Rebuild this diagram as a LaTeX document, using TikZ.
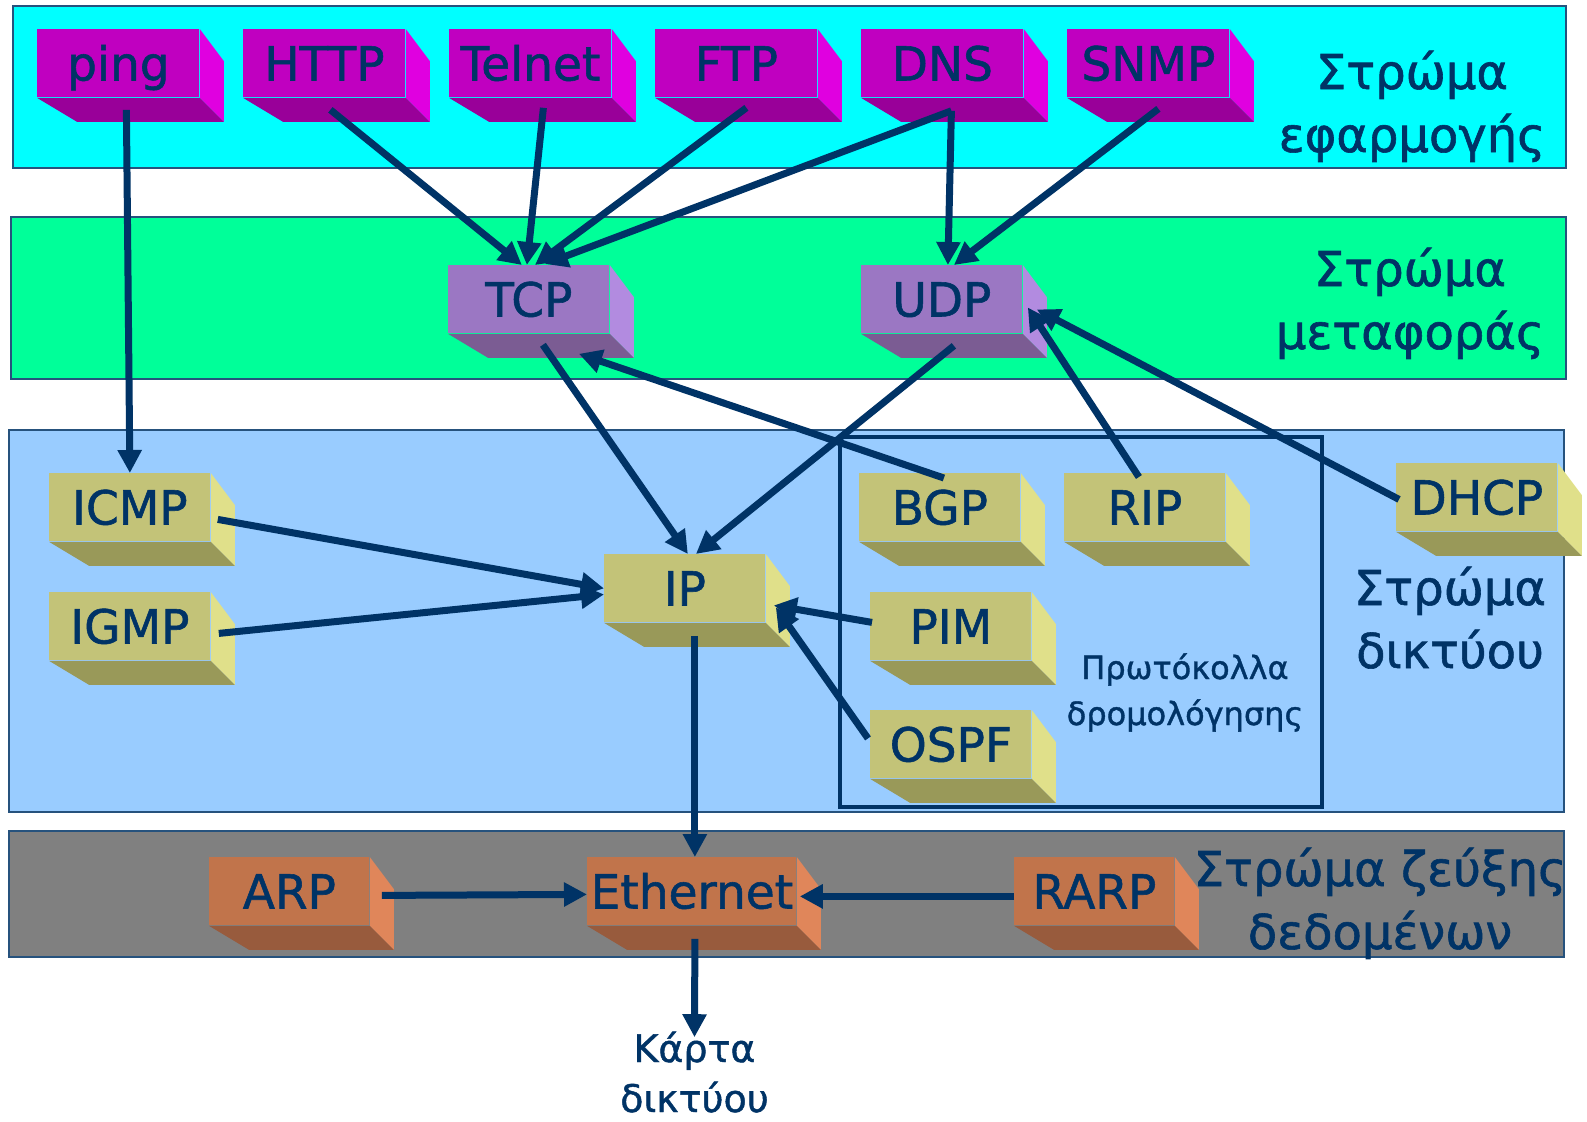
\documentclass[tikz,border=0pt]{standalone}
\usepackage{fontspec}
\setmainfont{DejaVu Sans}[FakeBold=1.2]
\usetikzlibrary{arrows.meta,calc}
\definecolor{navy}{HTML}{003366}
\definecolor{appL}{HTML}{00FFFF}\definecolor{trnL}{HTML}{00FF99}
\definecolor{netL}{HTML}{99CCFF}\definecolor{lnkL}{HTML}{808080}
\definecolor{appF}{HTML}{C000C0}\definecolor{appR}{HTML}{E000E0}\definecolor{appB}{HTML}{990099}
\definecolor{trnF}{HTML}{9B77C3}\definecolor{trnR}{HTML}{B28BE0}\definecolor{trnB}{HTML}{7B5C93}
\definecolor{netF}{HTML}{C3C378}\definecolor{netR}{HTML}{E0E08A}\definecolor{netB}{HTML}{999959}
\definecolor{lnkF}{HTML}{C1744B}\definecolor{lnkR}{HTML}{E0865A}\definecolor{lnkB}{HTML}{985B3D}
\tikzset{
  blok/.style={anchor=north west, inner sep=0pt, minimum height=34pt, text=navy,
    font=\fontsize{23.5}{28}\selectfont, text height=17.1pt, text depth=0pt},
  band/.style={draw=navy!85, line width=1pt},
  layer/.style={anchor=base, align=center, text=navy, inner sep=0pt,
    font=\fontsize{24}{31.5}\selectfont},
  flow/.style={draw=navy, line width=3.5pt, -{Triangle[length=11.5pt,width=11.5pt]}}
}
% 3d block: [colour:width](nw corner){name}{text}
\def\blok[#1:#2](#3)#4#5{
  \node[blok, fill=#1F, minimum width=#2*0.5pt] (#4) at (#3) {#5};
  \fill[#1R] (#4.north east) -- ++(24,32) -- ([shift={(24,24)}]#4.south east) -- (#4.south east) -- cycle;
  \fill[#1B] (#4.south west) -- (#4.south east) -- ([shift={(24,24)}]#4.south east) -- ([shift={(40,24)}]#4.south west) -- cycle;
}
\begin{document}
\begin{tikzpicture}[x=0.5pt, y=-0.5pt]
		%%%%% START %%%%%
		\useasboundingbox (0,0) rectangle (1587,1121);
		
		\draw[band, fill=appL] (13,6) rectangle (1566,168);
		\draw[band, fill=trnL] (11,217) rectangle (1566,379);
		\draw[band, fill=netL] (9,430) rectangle (1564,812);
		\draw[band, fill=lnkL] (9,831) rectangle (1564,957);
		
		% application layer
		\blok[app:162](37,29){ping}{ping}
		\blok[app:162](243,29){http}{HTTP}
		\blok[app:162](449,29){telnet}{Telnet}
		\blok[app:162](655,29){ftp}{FTP}
		\blok[app:162](861,29){dns}{DNS}
		\blok[app:162](1067,29){snmp}{SNMP}
		\node[layer] (applbl) at (1412,152) {Στρώμα\\εφαρμογής};
		
		% transport layer
		\blok[trn:161](448,265){tcp}{TCP}
		\blok[trn:161](861,265){udp}{UDP}
		\node[layer] (trnlbl) at (1410,349) {Στρώμα\\μεταφοράς};
		
		% network layer
		\draw[draw=navy, line width=2pt] (840,437) rectangle (1322,807);
		\blok[net:161](49,473){icmp}{ICMP}
		\blok[net:161](49,592){igmp}{IGMP}
		\blok[net:161](604,554){ip}{IP}
		\blok[net:161](859,473){bgp}{BGP}
		\blok[net:161](1064,473){rip}{RIP}
		\blok[net:161](870,592){pim}{PIM}
		\blok[net:161](870,710){ospf}{OSPF}
		\blok[net:161](1396,463){dhcp}{DHCP}
		\node[layer, font=\fontsize{16}{23}\selectfont] (routelbl) at (1185,725) {Πρωτόκολλα\\δρομολόγησης};
		\node[layer] (netlbl) at (1450,668) {Στρώμα\\δικτύου};
		
		% link layer
		\blok[lnk:160](209,857){arp}{ARP}
		\blok[lnk:209](587,857){eth}{Ethernet}
		\blok[lnk:160](1014,857){rarp}{RARP}
		\node[layer] (lnklbl) at (1380,949) {Στρώμα ζεύξης\\δεδομένων};
		
		\node[layer, font=\fontsize{19}{25}\selectfont, inner sep=1pt] (card) at (694.5,1112) {Κάρτα\\δικτύου};
		
		% connectors
		\draw[flow] ([shift={(8,12)}]ping.south) -- (icmp.north);
		\draw[flow] ([shift={(6,12)}]http.south) -- ([shift={(-7,0)}]tcp.north);
		\draw[flow] ([shift={(13,10)}]telnet.south) -- ([shift={(-2,0)}]tcp.north);
		\draw[flow] ([shift={(10,10)}]ftp.south) -- ([shift={(6,0)}]tcp.north);
		\draw[flow] ([shift={(9,13)}]dns.south) -- ([shift={(16,-1)}]tcp.north);
		\draw[flow] ([shift={(9,13)}]dns.south) -- ([shift={(6,0)}]udp.north);
		\draw[flow] ([shift={(10,11)}]snmp.south) -- ([shift={(12,0)}]udp.north);
		
		\draw[flow] ([shift={(14,11)}]tcp.south) -- ([shift={(3,0)}]ip.north);
		\draw[flow] ([shift={(12,12)}]udp.south) -- ([shift={(11,0)}]ip.north);
		\draw[flow] ([shift={(4,5)}]bgp.north) -- ([shift={(50,20)}]tcp.south);
		\draw[flow] ([shift={(-6,4)}]rip.north) -- ([shift={(5,8)}]udp.east);
		\draw[flow] ([shift={(3,2)}]dhcp.west) -- ([shift={(14,10)}]udp.east);
		
		\draw[flow] ([shift={(7,12)}]icmp.east) -- (ip.west);
		\draw[flow] ([shift={(8,7)}]igmp.east) -- ([shift={(0,6)}]ip.west);
		\draw[flow] ([shift={(2,-4)}]pim.west) -- ([shift={(8,17)}]ip.east);
		\draw[flow] ([shift={(-2,-6)}]ospf.west) -- ([shift={(10,19)}]ip.east);
		
		\draw[flow] ([shift={(10,13)}]ip.south) -- ([shift={(3,0)}]eth.north);
		\draw[flow] ([shift={(12,4)}]arp.east) -- ([shift={(0,3)}]eth.west);
		\draw[flow] ([shift={(0,5)}]rarp.west) -- ([shift={(3,5)}]eth.east);
		\draw[flow] ([shift={(3,13)}]eth.south) -- ([shift={(0,8)}]card.north);
		
		%%%%% END %%%%%
\end{tikzpicture}
\end{document}
